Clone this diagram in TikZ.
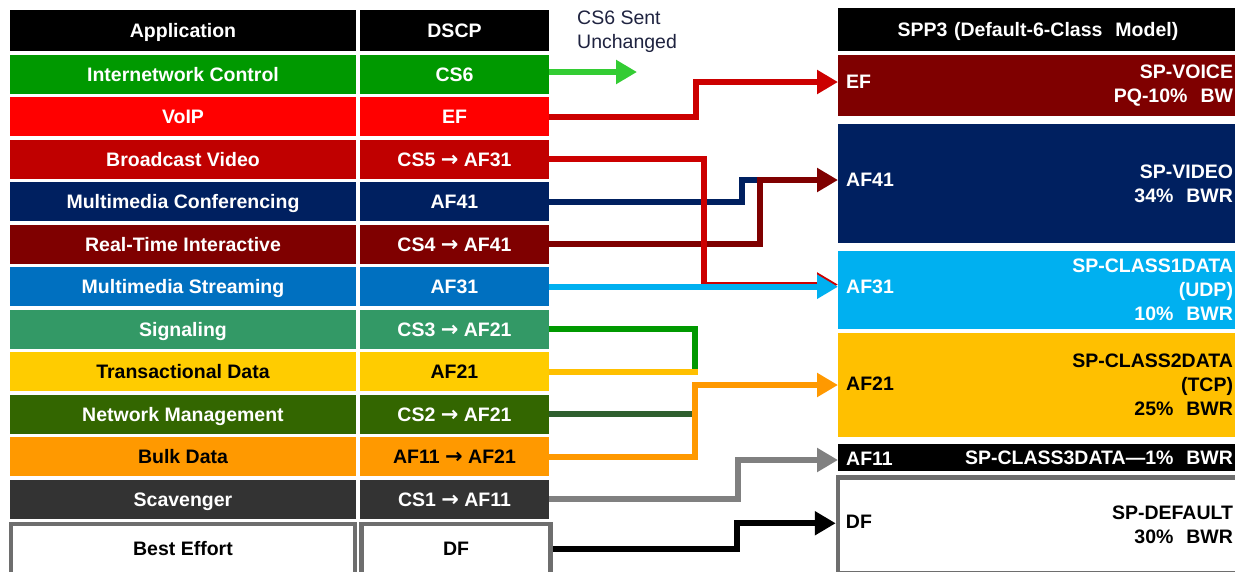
\documentclass[tikz,border=0pt]{standalone}
\usepackage{fontspec}
\setmainfont{Liberation Sans}
\newfontfamily\arrowfont{DejaVu Sans}
\newcommand{\remark}{\ {\arrowfont\bfseries\fontsize{21}{24}\selectfont →}\ }
\usetikzlibrary{arrows.meta,positioning}

\definecolor{ictrl}{HTML}{009900}
\definecolor{voip}{HTML}{FF0000}
\definecolor{bvideo}{HTML}{C00000}
\definecolor{mmconf}{HTML}{002060}
\definecolor{rtint}{HTML}{7F0000}
\definecolor{mmstream}{HTML}{0070C0}
\definecolor{signal}{HTML}{339966}
\definecolor{transdata}{HTML}{FFCC00}
\definecolor{netmgmt}{HTML}{336600}
\definecolor{bulkdata}{HTML}{FF9900}
\definecolor{scav}{HTML}{333333}
\definecolor{bdgray}{HTML}{6E6E6E}
\definecolor{af31c}{HTML}{00B0F0}
\definecolor{af21c}{HTML}{FFC000}
\definecolor{linered}{HTML}{CC0000}
\definecolor{linegreen}{HTML}{33CC33}
\definecolor{linedkgreen}{HTML}{2F5F2F}
\definecolor{linegray}{HTML}{808080}
\definecolor{notec}{HTML}{1F2340}

\begin{document}
\begin{tikzpicture}[x=1pt, y=-1pt,
  font=\fontsize{19.5}{24}\selectfont\bfseries, >={Triangle[length=21pt,width=23pt]}, node distance=3.45pt,
  cell/.style={inner sep=0pt, outer sep=0pt, minimum height=39pt, text height=14pt, text depth=0pt, text=white},
  app/.style={cell, minimum width=346pt}, dscp/.style={cell, minimum width=189pt},
  hdr/.style={fill=black, minimum height=41pt},
  beff/.style={draw=bdgray, line width=4.5pt, outer sep=2.25pt, fill=white, text=black, minimum height=50pt},
  pclass/.style={inner xsep=5pt, inner ysep=0pt, outer sep=0pt, text width=390pt, align=right, text=white},
  plbl/.style={inner sep=0pt, anchor=west, text=white},
  wire/.style={line width=6pt}, flow/.style={wire, ->}]
\clip (0,0) rectangle (1235,571);
\fill[white] (0,0) rectangle (1235,571);
% application / dscp table
\node[app, hdr, anchor=north west] (a0) at (10,10) {Application};
\node[dscp, hdr, right=4pt of a0] (d0) {DSCP};
\node[app, fill=ictrl, below=4pt of a0] (a1) {Internetwork Control};
\node[dscp, fill=ictrl, right=4pt of a1] (d1) {CS6};
\node[app, fill=voip, below=of a1] (a2) {VoIP};
\node[dscp, fill=voip, right=4pt of a2] (d2) {EF};
\node[app, fill=bvideo, below=of a2] (a3) {Broadcast Video};
\node[dscp, fill=bvideo, right=4pt of a3] (d3) {CS5\remark AF31};
\node[app, fill=mmconf, below=of a3] (a4) {Multimedia Conferencing};
\node[dscp, fill=mmconf, right=4pt of a4] (d4) {AF41};
\node[app, fill=rtint, below=of a4] (a5) {Real-Time Interactive};
\node[dscp, fill=rtint, right=4pt of a5] (d5) {CS4\remark AF41};
\node[app, fill=mmstream, below=of a5] (a6) {Multimedia Streaming};
\node[dscp, fill=mmstream, right=4pt of a6] (d6) {AF31};
\node[app, fill=signal, below=of a6] (a7) {Signaling};
\node[dscp, fill=signal, right=4pt of a7] (d7) {CS3\remark AF21};
\node[app, fill=transdata, text=black, below=of a7] (a8) {Transactional Data};
\node[dscp, fill=transdata, text=black, right=4pt of a8] (d8) {AF21};
\node[app, fill=netmgmt, below=of a8] (a9) {Network Management};
\node[dscp, fill=netmgmt, right=4pt of a9] (d9) {CS2\remark AF21};
\node[app, fill=bulkdata, text=black, below=of a9] (a10) {Bulk Data};
\node[dscp, fill=bulkdata, text=black, right=4pt of a10] (d10) {AF11\remark AF21};
\node[app, fill=scav, below=of a10] (a11) {Scavenger};
\node[dscp, fill=scav, right=4pt of a11] (d11) {CS1\remark AF11};
\node[app, beff, minimum width=344pt, below=3pt of a11] (a12) {Best Effort};
\node[dscp, beff, right=2pt of a12] (d12) {DF};
% spp3 classes
\node[pclass, fill=black, align=center, minimum height=43pt, text height=14pt, text depth=0pt, anchor=north west] (q0) at (838,8) {SPP3 (Default-6-Class\ \ Model)};
\node[pclass, fill=rtint, minimum height=61pt, below=4pt of q0] (q1) {SP-VOICE\\PQ-10\%\ \ BW};
\node[pclass, fill=mmconf, minimum height=119pt, below=8pt of q1] (q2) {SP-VIDEO\\34\%\ \ BWR};
\node[pclass, fill=af31c, minimum height=78pt, below=8pt of q2] (q3) {SP-CLASS1DATA\\(UDP)\\10\%\ \ BWR};
\node[pclass, fill=af21c, text=black, minimum height=104pt, below=4pt of q3] (q4) {SP-CLASS2DATA\\(TCP)\\25\%\ \ BWR};
\node[pclass, fill=black, minimum height=27pt, text height=14pt, text depth=0pt, below=7pt of q4] (q5) {SP-CLASS3DATA—1\%\ \ BWR};
\node[pclass, draw=bdgray, line width=4.5pt, outer sep=2.25pt, fill=white, text=black, minimum height=96pt, below=4pt of q5] (q6) {SP-DEFAULT\\30\%\ \ BWR};
\node[plbl] (l1) at ([xshift=8pt,yshift=3.5pt]q1.west) {EF};
\node[plbl] (l2) at ([xshift=8pt,yshift=3.5pt]q2.west) {AF41};
\node[plbl] (l3) at ([xshift=8pt,yshift=3.5pt]q3.west) {AF31};
\node[plbl, text=black] (l4) at ([xshift=8pt,yshift=1pt]q4.west) {AF21};
\node[plbl] (l5) at ([xshift=8pt,yshift=-1pt]q5.west) {AF11};
\node[plbl, text=black] (l6) at ([xshift=10pt,yshift=3pt]q6.west) {DF};
\node[font=\fontsize{19.5}{24}\selectfont\mdseries, text=notec, align=left, inner sep=0pt, anchor=north west] (note) at (577,11) {CS6 Sent\\Unchanged};
% re-marking paths
\coordinate (cs6tip) at (637,72);
\draw[flow, linegreen] (d1.east |- cs6tip) -- (cs6tip);
\draw[flow, linered] (d2.east) -- ++(147,0) |- ([yshift=3.5pt]q1.west);
\draw[wire, mmconf] (d4.east) -- ++(193,0) |- ([xshift=-78pt,yshift=3.5pt]q2.west);
\draw[flow, rtint] (d5.east) -- ++(211,0) |- ([yshift=3.5pt]q2.west);
\draw[flow, linered] (d3.east) -- ++(155,0) |- ([yshift=5.5pt]q3.west);
\draw[flow, af31c] (d6.east) -- (d6.east -| q3.west);
\draw[wire, ictrl] (d7.east) -| ([xshift=146pt]d8.east);
\draw[wire, af21c] (d8.east) -- ++(149,0);
\draw[wire, linedkgreen] (d9.east) -- ++(143,0);
\draw[flow, bulkdata] (d10.east) -- ++(146,0) |- (q4.west);
\draw[flow, linegray] (d11.east) -- ++(189,0) |- ([yshift=-2.5pt]q5.west);
\draw[flow, black] (d12.east) -- ++(184,0) |- ([yshift=2pt]q6.west);
\end{tikzpicture}
\end{document}
